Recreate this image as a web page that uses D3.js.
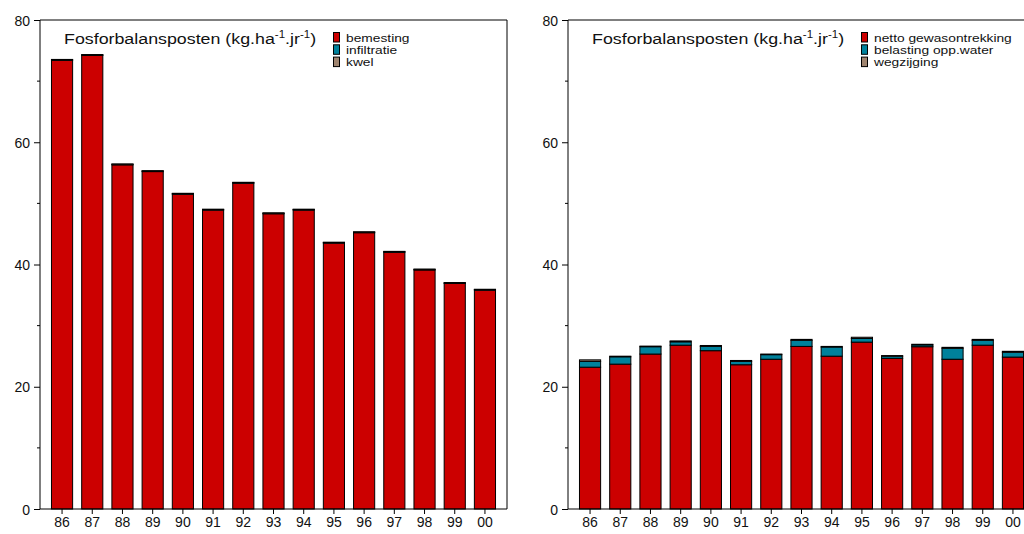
<!DOCTYPE html>
<html>
<head>
<meta charset="utf-8">
<script src="https://cdn.jsdelivr.net/npm/d3@7"></script>
<style>
  body { margin: 0; background: #fff; }
  svg { display: block; font-family: 'Liberation Sans', Arial, sans-serif; }
  .tick text { font-size: 14px; fill: #111; }
  .legend text { font-size: 11.2px; fill: #111; }
  .title { font-size: 15.5px; fill: #111; }
</style>
</head>
<body>
<svg id="chart" width="1024" height="534"></svg>
<script>
// years on the x axis
const years = ['86', '87', '88', '89', '90', '91', '92', '93', '94', '95', '96', '97', '98', '99', '00'];

// left panel: aanvoer
const bemesting = [73.4, 74.2, 56.3, 55.2, 51.5, 48.9, 53.3, 48.3, 48.9, 43.5, 45.2, 42.0, 39.1, 36.9, 35.8];
const infiltratie = [0.1, 0.1, 0.1, 0.1, 0.1, 0.1, 0.1, 0.1, 0.1, 0.1, 0.1, 0.1, 0.1, 0.1, 0.1];
const kwel = [0.05, 0.05, 0.05, 0.05, 0.05, 0.05, 0.05, 0.05, 0.05, 0.05, 0.05, 0.05, 0.05, 0.05, 0.05];

// right panel: afvoer
const nettoGewas = [23.2, 23.7, 25.35, 26.8, 25.9, 23.6, 24.5, 26.6, 25.0, 27.3, 24.65, 26.55, 24.5, 26.8, 24.85];
const belastingWater = [0.95, 1.2, 1.2, 0.55, 0.7, 0.55, 0.75, 1.0, 1.5, 0.6, 0.35, 0.3, 1.8, 0.8, 0.8];
const wegzijging = [0.25, 0.1, 0.1, 0.15, 0.15, 0.15, 0.1, 0.15, 0.1, 0.2, 0.1, 0.1, 0.15, 0.15, 0.15];

const yTicks = [0, 20, 40, 60, 80];
const yMinor = [10, 30, 50, 70];

const colors = ['#cc0000', '#00819b', '#a08570'];

const plotTop = 20;
const plotBottom = 509;
const panelWidth = 467;

// the original is stretched sideways a bit, so titles and legends are too
const stretch = 1.15;
const legendStretch = 1.23;

const svg = d3.select('#chart');

const y = d3.scaleLinear()
            .domain([0, 80])
            .range([plotBottom, plotTop]);

drawPanel(40, [bemesting, infiltratie, kwel], ['bemesting', 'infiltratie', 'kwel'], 333, true);
drawPanel(568, [nettoGewas, belastingWater, wegzijging], ['netto gewasontrekking', 'belasting opp.water', 'wegzijging'], 861, false);

function drawPanel(left, series, names, legendX, closed) {
  const g = svg.append('g');

  const x = d3.scaleBand()
              .domain(years)
              .range([left, left + panelWidth])
              .paddingInner(0.3)
              .paddingOuter(0.38);

  // stack the series per year
  const rows = years.map((yr, i) => {
    let r = { year: yr };
    names.forEach((n, k) => r[n] = series[k][i]);
    return r;
  });
  const stacked = d3.stack().keys(names)(rows);

  g.selectAll('.layer')
   .data(stacked)
   .enter()
   .append('g')
   .attr('class', 'layer')
   .attr('fill', (d, k) => colors[k])
   .selectAll('rect')
   .data(d => d)
   .enter()
   .append('rect')
   .attr('x', d => x(d.data.year))
   .attr('y', d => y(d[1]))
   .attr('width', x.bandwidth())
   .attr('height', d => y(d[0]) - y(d[1]))
   .attr('stroke', '#000')
   .attr('stroke-width', 1);

  // frame (top and right lines)
  if (closed) {
    g.append('path')
     .attr('d', `M${left},${plotTop}H${left + panelWidth}V${plotBottom}`)
     .attr('fill', 'none')
     .attr('stroke', '#000');
  } else {
    g.append('path')
     .attr('d', `M${left},${plotTop}H1024`)
     .attr('fill', 'none')
     .attr('stroke', '#000');
  }

  // y axis
  const yAxis = d3.axisLeft(y)
                  .tickValues(yTicks)
                  .tickSize(6)
                  .tickPadding(4);
  const ya = g.append('g')
              .attr('transform', `translate(${left},0)`)
              .call(yAxis);
  ya.select('.domain').attr('d', `M0,${plotTop}V${plotBottom}`);
  ya.selectAll('.tick text').attr('dy', '0.36em');

  g.append('g')
   .selectAll('line')
   .data(yMinor)
   .enter()
   .append('line')
   .attr('x1', left - 3)
   .attr('x2', left)
   .attr('y1', d => y(d))
   .attr('y2', d => y(d))
   .attr('stroke', '#000');

  // x axis
  const xAxis = d3.axisBottom(x)
                  .tickSize(5)
                  .tickPadding(3);
  const xa = g.append('g')
              .attr('transform', `translate(0,${plotBottom})`)
              .call(xAxis);
  xa.select('.domain').attr('d', `M${left},0H${left + panelWidth}`);

  // title
  const title = g.append('text')
                 .attr('class', 'title')
                 .attr('transform', `translate(${left + 24},44) scale(${stretch},1)`);
  title.append('tspan').text('Fosforbalansposten (kg.ha');
  title.append('tspan').attr('dy', -6).attr('font-size', '10px').text('-1');
  title.append('tspan').attr('dy', 6).text('.jr');
  title.append('tspan').attr('dy', -6).attr('font-size', '10px').text('-1');
  title.append('tspan').attr('dy', 6).text(')');

  // legend
  const legend = g.append('g')
                  .attr('class', 'legend');
  const item = legend.selectAll('g')
                     .data(names)
                     .enter()
                     .append('g')
                     .attr('transform', (d, i) => `translate(${legendX},${32 + i * 12.3})`);
  item.append('rect')
      .attr('x', 0.5)
      .attr('y', 0.5)
      .attr('width', 6)
      .attr('height', 9.5)
      .attr('fill', (d, i) => colors[i])
      .attr('stroke', '#000');
  item.append('text')
      .attr('transform', `translate(13,9.5) scale(${legendStretch},1)`)
      .text(d => d);
}
</script>
</body>
</html>
